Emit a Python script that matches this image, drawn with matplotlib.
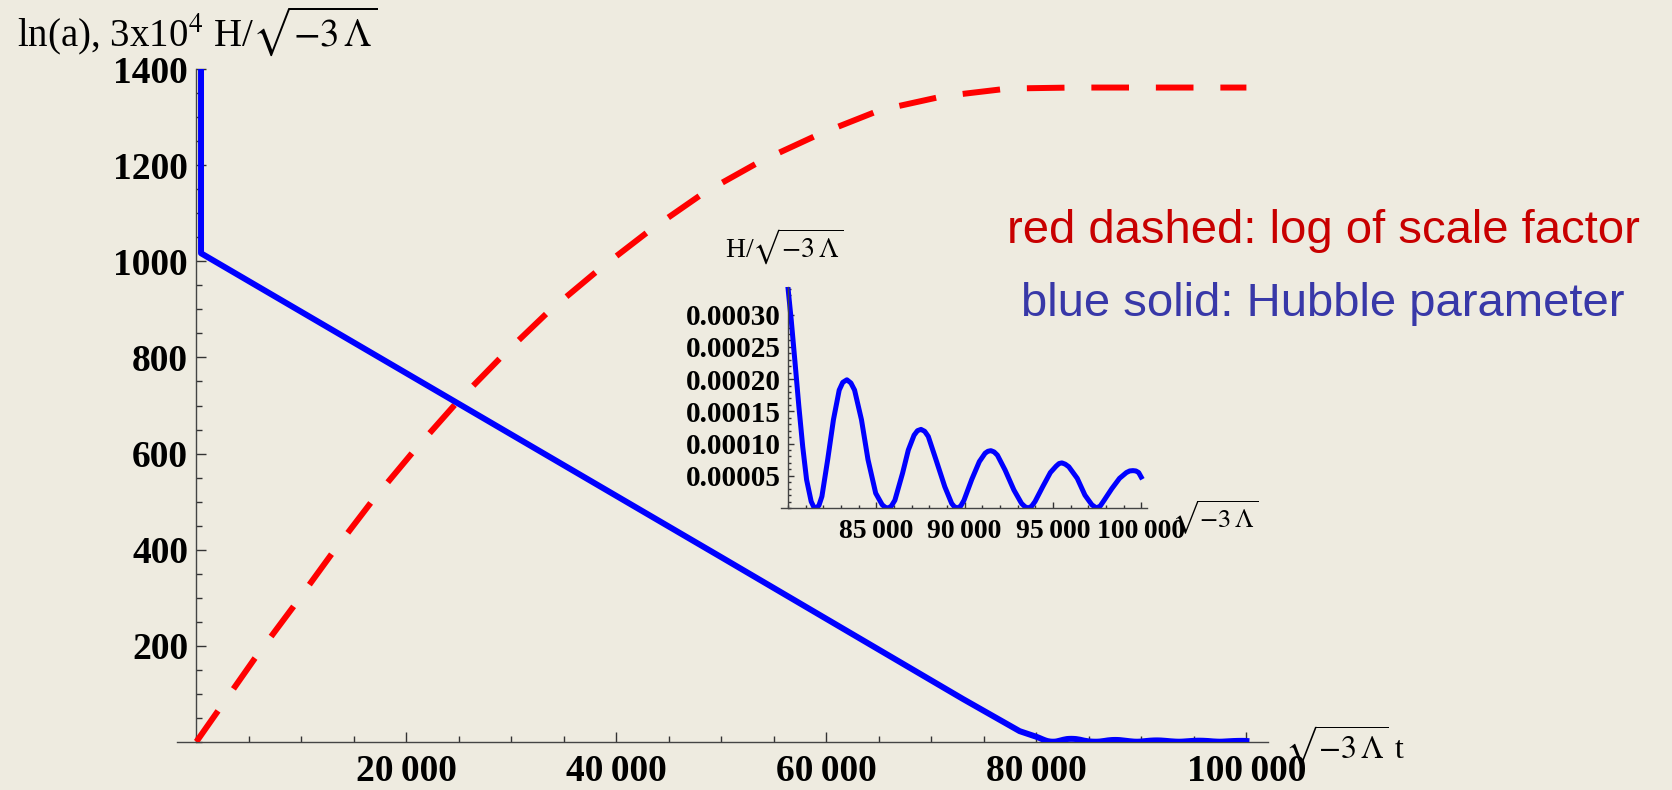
import matplotlib
matplotlib.use('Agg')
import matplotlib.pyplot as plt
from matplotlib.ticker import FixedLocator, MultipleLocator, FuncFormatter
import numpy as np

plt.rcParams['mathtext.fontset'] = 'stix'
plt.rcParams['font.family'] = ['Liberation Serif', 'DejaVu Serif']

# red dashed: ln(a)
t_red = [0, 5580, 9230, 12886, 16695, 20657, 24790, 29076, 33514, 38276,
         43200, 48276, 53676, 59324, 65105, 71133, 77325, 83500, 90000, 100000]
ln_a = [0, 174, 281, 391, 500, 604, 706, 802, 895, 982,
        1065, 1142, 1208, 1265, 1315, 1344, 1360, 1362, 1362, 1362]

# blue solid: 3x10^4 H, part before t = 80000
t_blue = [440, 440, 24790, 50000, 73000, 78400]
blue_scaled = [1500, 1017, 706, 384, 89, 22]

# H / sqrt(-3 Lambda) from t = 80000 on (values in 1e-4)
t_h = [80000, 80180, 80398, 80615, 80832, 81050, 81311, 81450, 81594, 81750,
       81919, 82245, 82571, 82898, 83100, 83333, 83560,
       83768, 84159, 84529, 84964, 85333, 85510, 85681, 85850,
       86051, 86486, 86812, 87138, 87330, 87530, 87740,
       87943, 88378, 88878, 89269, 89420, 89595, 89780,
       89965, 90400, 90835, 91161, 91320, 91487, 91670,
       91857, 92291, 92791, 93227, 93420, 93596, 93790,
       93988, 94423, 94857, 95184, 95350, 95510, 95700,
       95901, 96380, 96814, 97206, 97466, 97680,
       97902, 98336, 98772, 99163, 99350, 99532, 99700,
       99858, 100000]
h_e4 = [3.41, 2.92, 2.25, 1.57, 0.95, 0.44, 0.10, 0.02, 0.0, 0.04,
        0.18, 0.75, 1.37, 1.83, 1.95, 1.99, 1.94,
        1.83, 1.37, 0.75, 0.23, 0.05, 0.01, 0.0, 0.03,
        0.12, 0.54, 0.90, 1.13, 1.20, 1.22, 1.19,
        1.11, 0.75, 0.33, 0.07, 0.02, 0.0, 0.03,
        0.12, 0.44, 0.72, 0.85, 0.88, 0.89, 0.87,
        0.82, 0.59, 0.28, 0.07, 0.02, 0.0, 0.025,
        0.10, 0.33, 0.55, 0.65, 0.69, 0.70, 0.68,
        0.64, 0.46, 0.20, 0.05, 0.0, 0.03,
        0.12, 0.30, 0.46, 0.55, 0.575, 0.58, 0.575,
        0.55, 0.48]

h = np.array(h_e4) * 1e-4
t_main = t_blue + t_h
y_main = blue_scaled + list(3e4 * h)

bg = '#eeebe0'
W, H = 1672, 790


def group_fmt(v, p):
    return f'{int(round(v)):,}'.replace(',', '\u2009')


fig = plt.figure(figsize=(16.72, 7.9), dpi=100, facecolor=bg)

# main plot
ax = fig.add_axes([177 / W, 1 - 741.7 / H, (1268 - 177) / W, (741.7 - 69.3) / H])
ax.set_facecolor('none')
ax.plot(t_red, ln_a, color='red', lw=4.3, dashes=(6.3, 4.5), dash_capstyle='butt', zorder=3)
ax.plot(t_main, y_main, color='blue', lw=4.3, solid_joinstyle='round', zorder=4)
ax.set_xlim(-1848, 102057)
ax.set_ylim(0, 1400)
for s in ['top', 'right']:
    ax.spines[s].set_visible(False)
ax.spines['left'].set_position(('data', 0))
for s in ['left', 'bottom']:
    ax.spines[s].set_color('#444444')
    ax.spines[s].set_linewidth(1)
ax.xaxis.set_major_locator(FixedLocator([20000, 40000, 60000, 80000, 100000]))
ax.xaxis.set_minor_locator(MultipleLocator(5000))
ax.yaxis.set_major_locator(FixedLocator([200, 400, 600, 800, 1000, 1200, 1400]))
ax.yaxis.set_minor_locator(MultipleLocator(50))
ax.xaxis.set_major_formatter(FuncFormatter(group_fmt))
ax.tick_params(which='both', direction='in', color='#333333', width=1)
ax.tick_params(which='major', length=7)
ax.tick_params(which='minor', length=4.3)
ax.tick_params(axis='x', labelsize=27, pad=9)
ax.tick_params(axis='y', labelsize=27, pad=6)
for lab in ax.get_xticklabels() + ax.get_yticklabels():
    lab.set_fontweight('bold')

# inset
ax2 = fig.add_axes([780.8 / W, 1 - 508 / H, (1147 - 780.8) / W, (508 - 287) / H])
ax2.set_facecolor('none')
ax2.plot(t_h, h, color='blue', lw=3.6, solid_joinstyle='round')
ax2.set_xlim(79590, 100330)
ax2.set_ylim(0, 0.000343)
for s in ['top', 'right']:
    ax2.spines[s].set_visible(False)
ax2.spines['left'].set_position(('data', 80000))
for s in ['left', 'bottom']:
    ax2.spines[s].set_color('#444444')
    ax2.spines[s].set_linewidth(1)
ax2.xaxis.set_major_locator(FixedLocator([85000, 90000, 95000, 100000]))
ax2.xaxis.set_minor_locator(MultipleLocator(1000))
ax2.yaxis.set_major_locator(FixedLocator([0.00005, 0.0001, 0.00015, 0.0002, 0.00025, 0.0003]))
ax2.yaxis.set_minor_locator(MultipleLocator(0.00001))
ax2.xaxis.set_major_formatter(FuncFormatter(group_fmt))
ax2.yaxis.set_major_formatter(FuncFormatter(lambda v, p: f'{v:.5f}'))
ax2.tick_params(which='both', direction='in', color='#333333', width=1)
ax2.tick_params(which='major', length=4.5)
ax2.tick_params(which='minor', length=2.5)
ax2.tick_params(axis='x', labelsize=20, pad=8)
ax2.tick_params(axis='y', labelsize=21, pad=5)
for lab in ax2.get_xticklabels() + ax2.get_yticklabels():
    lab.set_fontweight('bold')

# axis labels
fig.text(17 / W, 1 - 46 / H, r'ln(a), 3x10$^{4}$ H/$\sqrt{-3\,\Lambda}$',
         fontsize=28, ha='left', va='baseline')
fig.text(1285 / W, 1 - 759 / H, r'$\sqrt{-3\,\Lambda}$ t',
         fontsize=23, ha='left', va='baseline')
fig.text(725 / W, 1 - 258 / H, r'H/$\sqrt{-3\,\Lambda}$',
         fontsize=20, ha='left', va='baseline')
fig.text(1172 / W, 1 - 528 / H, r'$\sqrt{-3\,\Lambda}$',
         fontsize=19, ha='left', va='baseline')

# legend text
fig.text(1323 / W, 1 - 243 / H, 'red dashed: log of scale factor', family='Liberation Sans',
         fontsize=34, color='#c80000', ha='center', va='baseline')
fig.text(1323 / W, 1 - 316 / H, 'blue solid: Hubble parameter', family='Liberation Sans',
         fontsize=34, color='#3838a8', ha='center', va='baseline')

fig.savefig('out.png', dpi=100, facecolor=bg)
